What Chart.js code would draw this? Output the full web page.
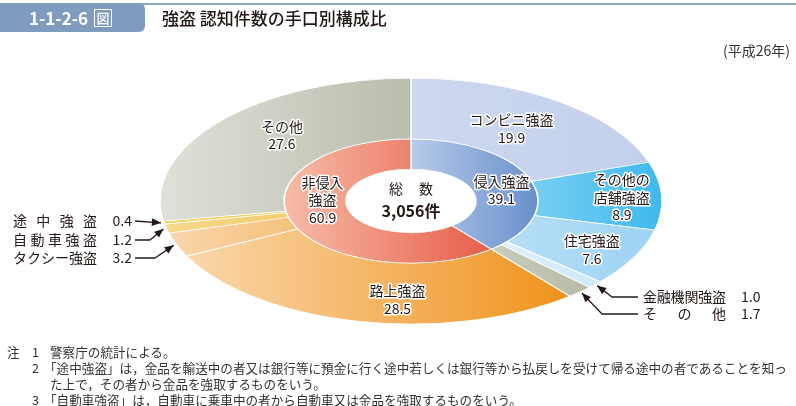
<!DOCTYPE html>
<html>
<head>
<meta charset="utf-8">
<script src="https://cdn.jsdelivr.net/npm/chart.js@4.4.0/dist/chart.umd.min.js"></script>
<style>
  body { margin: 0; width: 796px; height: 406px; position: relative; overflow: hidden; background: #fff;
         font-family: "Noto Sans CJK JP", "Noto Sans", sans-serif; color: #231815; }
  #chart { position: absolute; left: 0; top: 0; }
  #topline { position: absolute; left: 140px; right: 0; top: 3px; height: 2px; background: #8ea8c8; }
  #badge { position: absolute; left: 0; top: 3px; width: 145px; height: 29px; background: #7f9cbf;
           border-radius: 0 6px 6px 0; color: #fff; font-weight: 700; font-size: 17px; line-height: 29px; }
  #badge .num { position: absolute; left: 29px; }
  #badge .zu { position: absolute; left: 94px; top: 6px; width: 16px; height: 16px; border: 1px solid #fff;
               font-size: 13px; line-height: 16px; text-align: center; font-weight: 500; }
  #title { position: absolute; left: 162px; top: 6px; font-size: 17px; font-weight: 500; line-height: 24px; }
  #year { position: absolute; right: 6px; top: 40px; font-size: 14px; color: #333; }
  .note { position: absolute; font-size: 12.6px; line-height: 16px; white-space: nowrap; color: #333; }
</style>
</head>
<body>
<canvas id="chart" width="796" height="406"></canvas>
<div id="topline"></div>
<div id="badge"><span class="num">1-1-2-6</span><span class="zu">図</span></div>
<div id="title">強盗 認知件数の手口別構成比</div>
<div id="year">(平成26年)</div>
<div class="note" style="left:7px;top:344px">注</div>
<div class="note" style="left:32px;top:344px">1</div>
<div class="note" style="left:50px;top:344px">警察庁の統計による。</div>
<div class="note" style="left:32px;top:360px">2</div>
<div class="note" style="left:44px;top:360px">「途中強盗」は，金品を輸送中の者又は銀行等に預金に行く途中若しくは銀行等から払戻しを受けて帰る途中の者であることを知っ</div>
<div class="note" style="left:50px;top:376px">た上で，その者から金品を強取するものをいう。</div>
<div class="note" style="left:32px;top:392px">3</div>
<div class="note" style="left:44px;top:392px">「自動車強盗」は，自動車に乗車中の者から自動車又は金品を強取するものをいう。</div>
<script>
// ---------------- data ----------------
const outerLabels = ["コンビニ強盗", "その他の\n店舗強盗", "住宅強盗", "金融機関強盗", "その他",
  "路上強盗", "タクシー強盗", "自動車強盗", "途中強盗", "その他"];
const outerValues = [19.9, 8.9, 7.6, 1.0, 1.7, 28.5, 3.2, 1.2, 0.4, 27.6];
const innerLabels = ["侵入強盗", "非侵入\n強盗"];
const innerValues = [39.1, 60.9];
const centerLabel = "総数";
const totalCount = "3,056件";

// ---------------- styles ----------------
const outerLeft  = ["#cdd8ef", "#78cff2", "#b6def6", "#dcf0fa", "#c9ccbd", "#f9d8ab", "#f8d6ad", "#f6d98e", "#f4d66e", "#e0e0da"];
const outerRight = ["#c3d0eb", "#3eb9ec", "#9dd3f3", "#cfe9f8", "#b7bba8", "#f0921c", "#f6c07a", "#f4cd6c", "#f1c84c", "#b9bdac"];
const innerLeft  = ["#b8cae9", "#f6bca8"];
const innerRight = ["#6890cc", "#e75d49"];

const squash = 0.49;
const labelFont = '14px "Noto Sans CJK JP", sans-serif';
// label nudges (dx, dy) from the arc centroid
const outerNudge = { 0: [-10, 3], 1: [22, 0], 2: [13, 6], 5: [26, 8], 9: [15, -6] };
const innerNudge = [[0, 5], [2, -17]];
// leader labels: outer index -> layout
const leaders = {
  8: { side: "L", y: 221, elbow: 0 },
  7: { side: "L", y: 240, elbow: 15 },
  6: { side: "L", y: 258, elbow: 20 },
  3: { side: "R", y: 297, elbow: 26 },
  4: { side: "R", y: 314, elbow: 36 },
};

function center(chart) {
  const a = chart.getDatasetMeta(0).data[0];
  return { x: a.x, y: a.y };
}

function drawSpread(ctx, text, xL, xR, y) {
  const chars = [...text];
  const widths = chars.map(c => ctx.measureText(c).width);
  const sum = widths.reduce((s, w) => s + w, 0);
  const gap = chars.length > 1 ? (xR - xL - sum) / (chars.length - 1) : 0;
  let x = chars.length > 1 ? xL : (xL + xR - sum) / 2;
  ctx.textAlign = "left";
  chars.forEach((c, i) => { ctx.fillText(c, x, y); x += widths[i] + gap; });
}

function haloText(ctx, text, x, y) {
  ctx.strokeText(text, x, y);
  ctx.fillText(text, x, y);
}

const ellipsePlugin = {
  id: "ellipse",
  beforeDatasetsDraw(chart) {
    const ctx = chart.ctx;
    // horizontal gradient per segment from its actual extent
    [[0, outerLeft, outerRight], [1, innerLeft, innerRight]].forEach(([di, cl, cr]) => {
      chart.getDatasetMeta(di).data.forEach((arc, i) => {
        let minX = Infinity, maxX = -Infinity;
        for (let s = 0; s <= 40; s++) {
          const a = arc.startAngle + (arc.endAngle - arc.startAngle) * s / 40;
          [arc.innerRadius, arc.outerRadius].forEach(r => {
            const x = arc.x + r * Math.cos(a);
            minX = Math.min(minX, x); maxX = Math.max(maxX, x);
          });
        }
        const g = ctx.createLinearGradient(minX, 0, maxX + 0.01, 0);
        g.addColorStop(0, cl[i]);
        g.addColorStop(1, cr[i]);
        arc.options.backgroundColor = g;
      });
    });
    const c = center(chart);
    ctx.save();
    ctx.translate(c.x, c.y);
    ctx.scale(1, squash);
    ctx.translate(-c.x, -c.y);
  },
  afterDatasetsDraw(chart) {
    chart.ctx.restore();
  },
  afterDraw(chart) {
    const ctx = chart.ctx;
    const c = center(chart);
    ctx.save();
    ctx.font = labelFont;
    ctx.fillStyle = "#231815";
    ctx.strokeStyle = "#fff";
    ctx.lineWidth = 3;
    ctx.lineJoin = "round";
    ctx.textAlign = "center";
    ctx.textBaseline = "middle";

    const place = (arc, r, nudge) => {
      const a = (arc.startAngle + arc.endAngle) / 2;
      return { x: c.x + r * Math.cos(a) + nudge[0], y: c.y + r * Math.sin(a) * squash + nudge[1] };
    };
    const block = (lines, p) => {
      const lh = 17.5;
      lines.forEach((t, k) => haloText(ctx, t, p.x, p.y + (k - (lines.length - 1) / 2) * lh));
    };

    const outer = chart.getDatasetMeta(0).data;
    outer.forEach((arc, i) => {
      if (!outerNudge[i]) return;
      const p = place(arc, (arc.innerRadius + arc.outerRadius) / 2, outerNudge[i]);
      block([...outerLabels[i].split("\n"), outerValues[i].toFixed(1)], p);
    });
    chart.getDatasetMeta(1).data.forEach((arc, i) => {
      const p = place(arc, (arc.innerRadius + arc.outerRadius) / 2, innerNudge[i]);
      block([...innerLabels[i].split("\n"), innerValues[i].toFixed(1)], p);
    });

    // center
    ctx.font = labelFont;
    drawSpread(ctx, centerLabel, c.x - 22, c.x + 22, c.y - 12);
    ctx.textAlign = "center";
    ctx.font = 'bold 16px "Noto Sans CJK JP", sans-serif';
    ctx.fillText(totalCount, c.x, c.y + 10);

    // leader labels with arrows
    ctx.font = labelFont;
    ctx.lineWidth = 1.3;
    ctx.strokeStyle = "#231815";
    Object.keys(leaders).forEach(k => {
      const i = +k, L = leaders[k];
      const arc = outer[i];
      const tip = place(arc, arc.outerRadius + 3, [0, 0]);
      let start, elbow;
      const name = outerLabels[i].replace("\n", "");
      if (L.side === "L") {
        drawSpread(ctx, name, 13, 97, L.y);
        ctx.textAlign = "right";
        ctx.fillText(outerValues[i].toFixed(1), 132, L.y);
        start = { x: 135, y: L.y };
        elbow = { x: 135 + L.elbow, y: L.y };
      } else {
        drawSpread(ctx, name, 643, 726, L.y);
        ctx.textAlign = "left";
        ctx.fillText(outerValues[i].toFixed(1), 741, L.y);
        start = { x: 638, y: L.y };
        elbow = { x: 638 - L.elbow, y: L.y };
      }
      ctx.beginPath();
      ctx.moveTo(start.x, start.y);
      ctx.lineTo(elbow.x, elbow.y);
      ctx.lineTo(tip.x, tip.y);
      ctx.stroke();
      const ang = Math.atan2(tip.y - elbow.y, tip.x - elbow.x);
      ctx.beginPath();
      ctx.moveTo(tip.x, tip.y);
      ctx.lineTo(tip.x - 9 * Math.cos(ang) + 3.8 * Math.sin(ang), tip.y - 9 * Math.sin(ang) - 3.8 * Math.cos(ang));
      ctx.lineTo(tip.x - 9 * Math.cos(ang) - 3.8 * Math.sin(ang), tip.y - 9 * Math.sin(ang) + 3.8 * Math.cos(ang));
      ctx.closePath();
      ctx.fillStyle = "#231815";
      ctx.fill();
    });
    ctx.restore();
  },
};

new Chart(document.getElementById("chart"), {
  type: "doughnut",
  data: {
    labels: outerLabels,
    datasets: [
      { data: outerValues, backgroundColor: outerRight, borderColor: "#fff", borderWidth: 1.5, weight: 2, clip: false },
      { data: innerValues, backgroundColor: innerRight, borderColor: "#fff", borderWidth: 1.5, weight: 1, clip: false },
    ],
  },
  options: {
    responsive: false,
    animation: false,
    events: [],
    radius: 251,
    cutout: "25.9%",
    layout: { padding: { left: 26, right: 0, top: 0, bottom: 4 } },
    plugins: { legend: { display: false }, tooltip: { enabled: false } },
  },
  plugins: [ellipsePlugin],
});
</script>
</body>
</html>
